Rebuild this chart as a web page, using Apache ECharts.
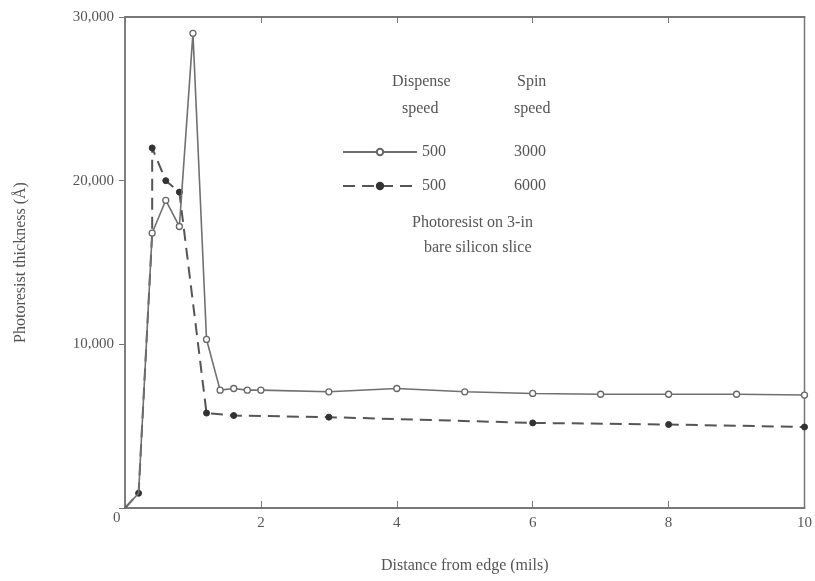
<!DOCTYPE html>
<html>
<head>
<meta charset="utf-8">
<script src="https://cdn.jsdelivr.net/npm/echarts@6/dist/echarts.min.js"></script>
<style>
  html, body { margin: 0; padding: 0; background: #fff; }
  #chart { width: 815px; height: 581px; }
</style>
</head>
<body>
<div id="chart"></div>
<script>
// distance from edge (mils) and thickness (angstrom)
var spin3000X = [0, 0.2, 0.4, 0.6, 0.8, 1.0, 1.2, 1.4, 1.6, 1.8, 2, 3, 4, 5, 6, 7, 8, 9, 10];
var spin3000Y = [0, 900, 16800, 18800, 17200, 29000, 10300, 7200, 7300, 7200, 7200, 7100, 7300, 7100, 7000, 6950, 6950, 6950, 6900];
var spin3000Hidden = [0, 1];   // points drawn without a marker

var spin6000X = [0, 0.2, 0.4, 0.4, 0.6, 0.8, 1.2, 1.6, 3, 6, 8, 10];
var spin6000Y = [0, 900, 16800, 22000, 20000, 19300, 5800, 5650, 5550, 5200, 5100, 4950];
var spin6000Hidden = [0, 2];

var xTicks = [0, 2, 4, 6, 8, 10];
var yTicks = [0, 10000, 20000, 30000];

var serif = '"Liberation Serif", "DejaVu Serif", serif';
var ink = '#555';

function pairs(xs, ys, hidden) {
  var out = [];
  for (var i = 0; i < xs.length; i++) {
    if (hidden.indexOf(i) >= 0) out.push({ value: [xs[i], ys[i]], symbol: 'none' });
    else out.push([xs[i], ys[i]]);
  }
  return out;
}

var chart = echarts.init(document.getElementById('chart'), null, { renderer: 'canvas' });

var option = {
  backgroundColor: '#fff',
  animation: false,
  grid: {
    left: 125, right: 5, top: 17, bottom: 73,
    show: true,
    borderColor: '#777',
    borderWidth: 1.5
  },
  xAxis: [{
    type: 'value',
    min: 0, max: 10, interval: 2,
    name: 'Distance from edge (mils)',
    nameLocation: 'middle',
    nameGap: 50,
    nameTextStyle: { fontFamily: serif, fontSize: 16, color: ink },
    axisLine: { show: true, lineStyle: { color: '#777', width: 2 } },
    axisTick: { show: true, inside: true, length: 7, lineStyle: { color: '#777' } },
    axisLabel: {
      fontFamily: serif, fontSize: 15, color: ink, margin: 8,
      formatter: function (v) {
        if (v === 0) return '';   // the corner 0 is drawn once below
        return xTicks.indexOf(v) >= 0 ? String(v) : '';
      }
    },
    splitLine: { show: false }
  }, {
    type: 'value',
    position: 'top',
    min: 0, max: 10, interval: 2,
    axisLine: { show: true, lineStyle: { color: '#777', width: 2 } },
    axisTick: { show: true, inside: true, length: 6, lineStyle: { color: '#777' } },
    axisLabel: { show: false },
    splitLine: { show: false }
  }],
  yAxis: {
    type: 'value',
    min: 0, max: 30000, interval: 10000,
    name: 'Photoresist thickness (\u00c5)',
    nameLocation: 'middle',
    nameGap: 96,
    nameTextStyle: { fontFamily: serif, fontSize: 16, color: ink },
    axisLine: { show: true, lineStyle: { color: '#777', width: 1.5 } },
    axisTick: { show: true, inside: false, length: 6, lineStyle: { color: '#777' } },
    axisLabel: {
      fontFamily: serif, fontSize: 15, color: ink, margin: 11,
      formatter: function (v) {
        if (v === 0 || yTicks.indexOf(v) < 0) return '';
        return v.toLocaleString('en-US');
      }
    },
    splitLine: { show: false }
  },
  legend: {
    orient: 'vertical',
    left: 337,
    top: 139,
    itemWidth: 74,
    itemHeight: 8,
    itemGap: 18,
    textStyle: {
      fontFamily: serif, fontSize: 16, color: ink,
      rich: {
        a: { width: 92, fontFamily: serif, fontSize: 16, color: ink },
        b: { fontFamily: serif, fontSize: 16, color: ink }
      }
    },
    formatter: function (name) {
      var p = name.split('/');
      return '{a|' + p[0] + '}{b|' + p[1] + '}';
    },
    data: ['500/3000', '500/6000']
  },
  graphic: [
    { type: 'text', left: 392, top: 74, style: { text: 'Dispense', font: '16px ' + serif, fill: ink } },
    { type: 'text', left: 402, top: 101, style: { text: 'speed', font: '16px ' + serif, fill: ink } },
    { type: 'text', left: 517, top: 74, style: { text: 'Spin', font: '16px ' + serif, fill: ink } },
    { type: 'text', left: 514, top: 101, style: { text: 'speed', font: '16px ' + serif, fill: ink } },
    { type: 'text', left: 412, top: 215, style: { text: 'Photoresist on 3-in', font: '16px ' + serif, fill: ink } },
    { type: 'text', left: 424, top: 240, style: { text: 'bare silicon slice', font: '16px ' + serif, fill: ink } },
    { type: 'text', left: 113, top: 511, style: { text: '0', font: '15px ' + serif, fill: ink } }
  ],
  series: [{
    name: '500/3000',
    type: 'line',
    data: pairs(spin3000X, spin3000Y, spin3000Hidden),
    symbol: 'circle',
    symbolSize: 6,
    itemStyle: { color: '#fff', borderColor: '#666', borderWidth: 1.3 },
    lineStyle: { color: '#707070', width: 1.6, type: 'solid' },
    z: 3
  }, {
    name: '500/6000',
    type: 'line',
    data: pairs(spin6000X, spin6000Y, spin6000Hidden),
    symbol: 'circle',
    symbolSize: 6,
    itemStyle: { color: '#333', borderColor: '#333', borderWidth: 1 },
    lineStyle: { color: '#555', width: 2, type: [12, 7] },
    z: 2
  }]
};

chart.setOption(option);
</script>
</body>
</html>
